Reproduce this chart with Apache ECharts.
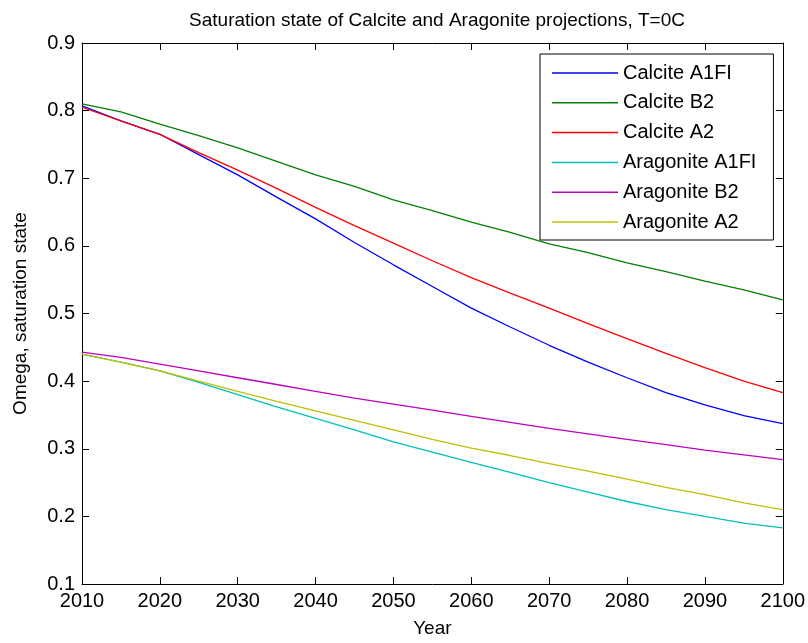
<!DOCTYPE html>
<html><head><meta charset="utf-8">
<script src="https://cdn.jsdelivr.net/npm/echarts@6/dist/echarts.min.js"></script>
<style>html,body{margin:0;padding:0;background:#fff}#c{width:808px;height:643px}</style>
</head><body><div id="c"></div>
<script>
const years = [2010,2015,2020,2025,2030,2035,2040,2045,2050,2055,2060,2065,2070,2075,2080,2085,2090,2095,2100];
const calciteA1FI = [.807,.785,.765,.735,.705,.672,.640,.605,.572,.540,.508,.480,.453,.428,.405,.383,.365,.349,.337];
const calciteB2 = [.81,.798,.78,.763,.745,.725,.705,.688,.668,.652,.635,.62,.603,.59,.575,.562,.548,.535,.52];
const calciteA2 = [.805,.785,.765,.738,.712,.685,.657,.630,.604,.578,.553,.53,.508,.485,.463,.441,.42,.40,.383];
const aragoniteA1FI = [.44,.428,.415,.398,.38,.362,.345,.328,.31,.295,.28,.265,.25,.236,.222,.21,.20,.19,.183];
const aragoniteB2 = [.443,.435,.425,.415,.405,.395,.385,.375,.366,.357,.348,.339,.33,.322,.314,.306,.298,.291,.284];
const aragoniteA2 = [.44,.428,.415,.40,.385,.37,.356,.342,.328,.314,.301,.29,.278,.267,.255,.243,.232,.22,.21];
const seriesNames = ['Calcite A1FI','Calcite B2','Calcite A2','Aragonite A1FI','Aragonite B2','Aragonite A2'];
const seriesData = [calciteA1FI, calciteB2, calciteA2, aragoniteA1FI, aragoniteB2, aragoniteA2];
const colors = ['#0000ff','#008000','#ff0000','#00bfbf','#bf00bf','#bfbf00'];

const font = 'Liberation Sans, Arial, sans-serif';
const chart = echarts.init(document.getElementById('c'));
const axisCommon = {
  axisLine:{show:true,lineStyle:{color:'#000',width:1}},
  axisTick:{show:true,inside:true,length:7,lineStyle:{color:'#000'}},
  splitLine:{show:false}
};
chart.setOption({
  animation:false,
  color: colors,
  title:{text:'Saturation state of Calcite and Aragonite projections, T=0C',left:432,textAlign:'center',top:6,
    textStyle:{fontFamily:font,fontSize:19,fontWeight:'normal',color:'#000'}},
  grid:{left:82,right:25,top:43,bottom:58},
  legend:{orient:'vertical',left:540,top:54,padding:[9,17,8,12],itemGap:9.8,itemWidth:66,itemHeight:1.5,icon:'rect',
    borderColor:'#000',borderWidth:1,backgroundColor:'#fff',
    textStyle:{fontFamily:font,fontSize:20,lineHeight:20,height:20,color:'#000'},
    data:seriesNames},
  xAxis:[
    Object.assign({type:'value',min:2010,max:2100,interval:10,name:'Year',nameLocation:'middle',nameGap:35,
      nameTextStyle:{fontFamily:font,fontSize:19,color:'#000'},
      axisLabel:{fontFamily:font,fontSize:20,color:'#000',margin:7,formatter:v=>String(v)}},axisCommon),
    Object.assign({type:'value',min:2010,max:2100,interval:10,position:'top',axisLabel:{show:false}},axisCommon)
  ],
  yAxis:[
    Object.assign({type:'value',min:0.1,max:0.9,interval:0.1,name:'Omega, saturation state',nameLocation:'middle',nameGap:52,
      nameTextStyle:{fontFamily:font,fontSize:19,color:'#000'},
      axisLabel:{fontFamily:font,fontSize:20,color:'#000',margin:7,formatter:v=>v.toFixed(1)}},axisCommon),
    Object.assign({type:'value',min:0.1,max:0.9,interval:0.1,position:'right',axisLabel:{show:false}},axisCommon)
  ],
  series: seriesNames.map((n,i)=>({name:n,type:'line',symbol:'none',lineStyle:{width:1.3,color:colors[i]},
    itemStyle:{color:colors[i]},data:years.map((y,j)=>[y,seriesData[i][j]])}))
});
</script></body></html>
